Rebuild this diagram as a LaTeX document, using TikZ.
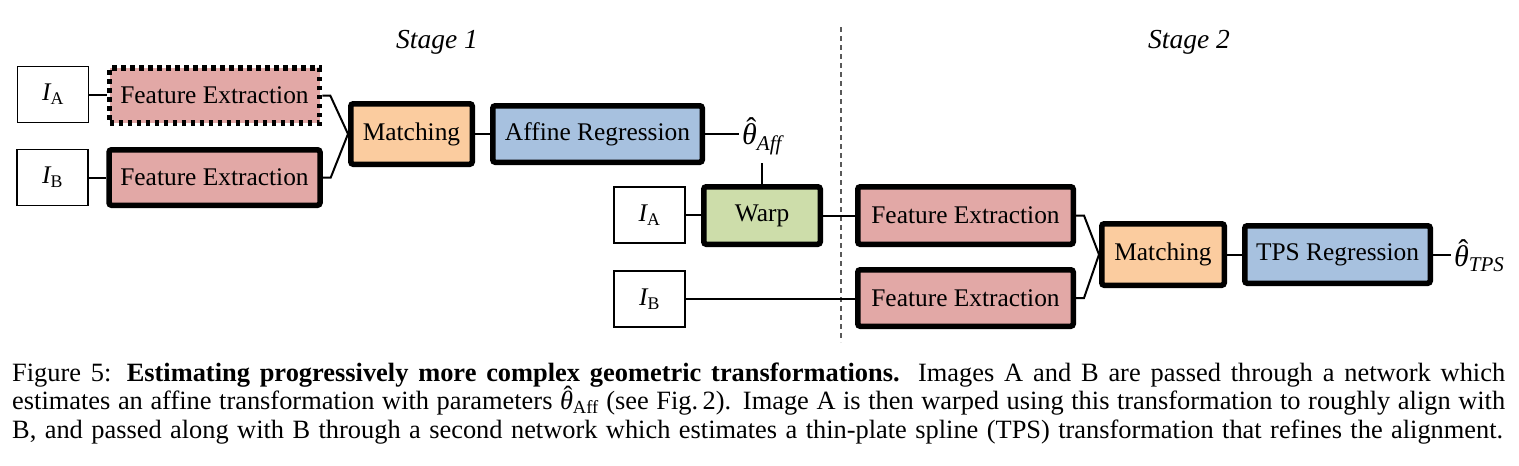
\documentclass[tikz,border=0pt]{standalone}
\usepackage{amsmath}
\usepackage{fontspec}
\setmainfont{Liberation Serif}
\definecolor{fecol}{RGB}{226,168,166}
\definecolor{matchcol}{RGB}{251,204,159}
\definecolor{regcol}{RGB}{167,193,223}
\definecolor{warpcol}{RGB}{205,221,170}
\newcommand\dfont{\fontsize{25.4}{30}\selectfont}
\newcommand\tfont{\fontsize{30}{32}\selectfont}
\newcommand\sfontx{\fontsize{27.5}{30}\selectfont}
\newcommand\cfont{\fontsize{26.4}{28.5}\selectfont}
\newcommand\thh{\mbox{\itshape\ooalign{θ\cr\hidewidth\kern0.12em\raisebox{0.2em}{\upshape ^^^^02c6}\hidewidth\cr}}}
\begin{document}
\begin{tikzpicture}[x=1pt,y=-1pt,
  blk/.style={draw=black, line width=5.5pt, rounded corners=2.5pt, inner sep=0pt, font=\dfont},
  dotblk/.style={blk, dash pattern=on 4.5pt off 4.5pt, rounded corners=0pt},
  img/.style={draw=black, line width=1.3pt, inner sep=0pt, font=\dfont, minimum width=71pt, minimum height=56pt},
  conn/.style={line width=2pt},
  thlbl/.style={anchor=base west, inner xsep=3pt, inner ysep=0pt, font=\tfont},
  stagelbl/.style={font=\sfontx\itshape, inner sep=0pt, anchor=base},
  caplbl/.style={font=\cfont, inner sep=0pt, anchor=base west},
  divider/.style={draw=black!65, line width=1.6pt, dash pattern=on 5pt off 4pt}]
\useasboundingbox (0,0) rectangle (1519,466);
\fill[white] (0,0) rectangle (1519,466);

% stage labels
\node[stagelbl] (s1) at (437,48) {Stage 1};
\node[stagelbl] (s2) at (1189,48) {Stage 2};

% divider
\coordinate (dtop) at (841,27);
\coordinate (dbot) at (841,342);
\draw[divider] (dtop) -- (dbot);

% Stage 1
\node[img] (ia1) at (53,94.5) {$\textit{I}_{\textrm{A}}$};
\node[img] (ib1) at (52.5,177.5) {$\textit{I}_{\textrm{B}}$};
\node[dotblk, fill=fecol, minimum width=210pt, minimum height=55pt] (fea1) at (214.5,95.5) {Feature Extraction};
\node[blk, fill=fecol, minimum width=211pt, minimum height=55.5pt] (feb1) at (214.5,177.5) {Feature Extraction};
\node[blk, fill=matchcol, minimum width=121.5pt, minimum height=60.5pt] (m1) at (411.5,134) {Matching};
\node[blk, fill=regcol, minimum width=209.5pt, minimum height=56.5pt] (aff) at (597.5,134) {Affine Regression};
\node[thlbl] (thaff) at (739,144) {$\thh_{\textit{Aff}}$};

% Stage 2 inputs
\node[img] (ia2) at (649.5,215) {$\textit{I}_{\textrm{A}}$};
\node[img] (ib2) at (649.5,299) {$\textit{I}_{\textrm{B}}$};
\node[blk, fill=warpcol, minimum width=116.5pt, minimum height=57.5pt] (warp) at (762,215.5) {Warp};
\coordinate (warpin) at (762,163);

\node[blk, fill=fecol, minimum width=215.5pt, minimum height=57.5pt] (fea2) at (965.5,215.5) {Feature Extraction};
\node[blk, fill=fecol, minimum width=215.5pt, minimum height=56.5pt] (feb2) at (965.5,298) {Feature Extraction};
\node[blk, fill=matchcol, minimum width=122.5pt, minimum height=61.5pt] (m2) at (1163,254.5) {Matching};
\node[blk, fill=regcol, minimum width=185.5pt, minimum height=57.5pt] (tps) at (1337.5,254.5) {TPS Regression};
\node[thlbl] (thtps) at (1451,266) {$\thh_{\textit{TPS}}$};

% connectors
\draw[conn] (ia1.east) -- (ia1.east -| fea1.west);
\draw[conn] (ib1.east) -- (ib1.east -| feb1.west);
\draw[conn] (fea1.east) -- ++(8,0) -- (m1.west);
\draw[conn] (feb1.east) -- ++(8,0) -- (m1.west);
\draw[conn] (m1.east) -- (aff.west);
\draw[conn] (aff.east) -- (aff.east -| thaff.west);
\draw[conn] (warpin) -- (warp.north);
\draw[conn] (ia2.east) -- (ia2.east -| warp.west);
\draw[conn] (warp.east) -- (fea2.west);
\draw[conn] (ib2.east) -- (ib2.east -| feb2.west);
\draw[conn] (fea2.east) -- ++(8,0) -- (m2.west);
\draw[conn] (feb2.east) -- ++(8,0) -- (m2.west);
\draw[conn] (m2.east) -- (tps.west);
\draw[conn] (tps.east) -- (tps.east -| thtps.west);

% caption
\node[caplbl] (cap1) at (12,381) {\makebox[1493pt][s]{Figure 5: \textbf{Estimating progressively more complex geometric transformations.} Images A and B are passed through a network which}};
\node[caplbl] (cap2) at (12,409.5) {\makebox[1493pt][s]{estimates an affine transformation with parameters $\thh_{\textrm{Aff}}$ (see Fig.\,2). Image A is then warped using this transformation to roughly align with}};
\node[caplbl] (cap3) at (12,438) {\makebox[1491pt][s]{B, and passed along with B through a second network which estimates a thin-plate spline (TPS) transformation that refines the alignment.}};
\end{tikzpicture}
\end{document}
